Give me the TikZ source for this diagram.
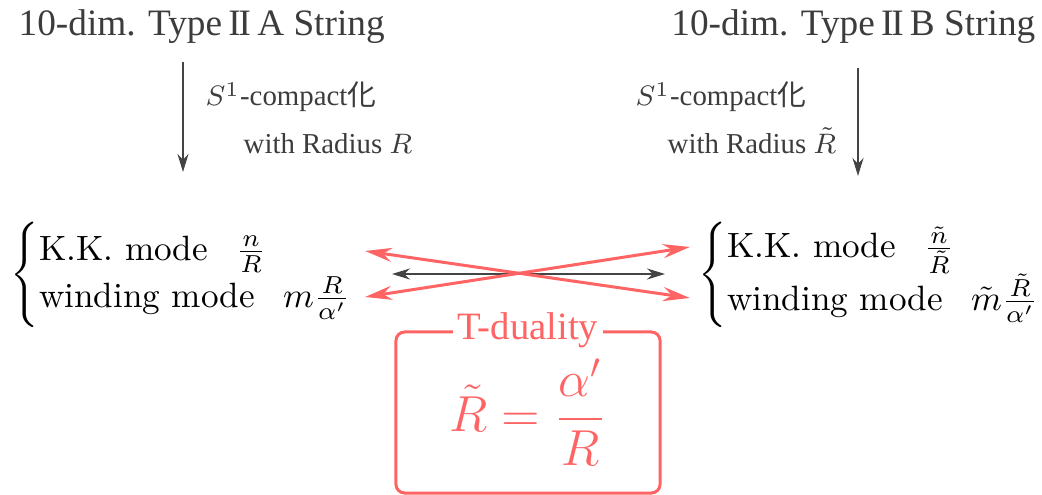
\documentclass[tikz,border=0pt]{standalone}
\usepackage{amsmath}
\usepackage{fontspec}
\usepackage{tikz}
\usetikzlibrary{
  arrows.meta,
  positioning
}
\newfontfamily\strfont{Liberation Serif}
\newfontfamily\cjk{Noto Sans CJK JP}
\definecolor{tdRed}{HTML}{FF6464}
\definecolor{tdInk}{HTML}{3C3C3C}
\definecolor{tdArrow}{HTML}{444444}
\tikzset{
  strname/.style={font=\strfont\fontsize{10.6pt}{13pt}\selectfont, text=tdInk, inner sep=0pt},
  compact/.style={font=\strfont\fontsize{8.2pt}{13.6pt}\selectfont, text=tdInk, inner sep=0pt, align=left},
  modes/.style={font=\normalsize, inner sep=0pt},
  reduce/.style={-{Stealth[length=1.8mm, width=1.1mm]}, line width=0.6pt, tdArrow},
  dual/.style={{Stealth[length=2.7mm, width=1.4mm]}-{Stealth[length=2.7mm, width=1.4mm]}, line width=0.85pt, tdRed},
  swap/.style={{Stealth[length=1.8mm, width=1.1mm]}-{Stealth[length=1.8mm, width=1.1mm]}, line width=0.6pt, tdArrow},
  tbox/.style={draw=tdRed, line width=0.85pt, rounded corners=2.5pt, minimum width=2.64cm,
    minimum height=1.61cm, text=tdRed, font=\fontsize{14.5pt}{17pt}\selectfont},
  tlabel/.style={fill=white, text=tdRed, inner sep=1.5pt, font=\strfont\fontsize{11pt}{13pt}\selectfont}
}
\newcommand{\two}{I\kern-0.6pt I}

\begin{document}
\begin{tikzpicture}[x=0.01cm, y=-0.01cm]
  \useasboundingbox (0,0) rectangle (1042,495);
  % string theories
  \node[strname, anchor=base west] (typeA) at (18,36) {10-dim. Type\,\two\,A String};
  \node[strname, anchor=base east] (typeB) at (1036,36) {10-dim. Type\,\two\,B String};
  % compactification
  \coordinate (downA1) at (183,62);
  \coordinate (downA2) at (183,172);
  \coordinate (downB1) at (858,68);
  \coordinate (downB2) at (858,176);
  \draw[reduce] (downA1) -- (downA2);
  \draw[reduce] (downB1) -- (downB2);
  \node[compact, anchor=base west] (compA) at (205,106) {$S^1$-compact{\cjk 化}};
  \node[compact, anchor=base west] (radA) at (243,154) {with Radius $R$};
  \node[compact, anchor=base west] (compB) at (635,106) {$S^1$-compact{\cjk 化}};
  \node[compact, anchor=base west] (radB) at (667,154) {with Radius $\tilde R$};
  % spectra
  \node[modes, anchor=west] (modesA) at (10,275)
    {$\left\{\begin{array}{@{}l@{}}\rule{0pt}{11pt}\text{K.K. mode}\hspace{8pt}\frac{n}{R}\\[1pt]
      \text{winding mode}\hspace{8pt}m\frac{R}{\alpha'}\rule[-6pt]{0pt}{6pt}\end{array}\right.$};
  \node[modes, anchor=west] (modesB) at (698,275)
    {$\left\{\begin{array}{@{}l@{}}\rule{0pt}{11pt}\text{K.K. mode}\hspace{8pt}\frac{\tilde n}{\tilde R}\\[1pt]
      \text{winding mode}\hspace{8pt}\tilde m\frac{\tilde R}{\alpha'}\rule[-6pt]{0pt}{6pt}\end{array}\right.$};
  % T-duality map
  \coordinate (kkA) at (365,251);
  \coordinate (wA) at (365,297);
  \coordinate (kkB) at (690,247);
  \coordinate (wB) at (690,298);
  \coordinate (midA) at (392,274);
  \coordinate (midB) at (665,274);
  \draw[swap] (midA) -- (midB);
  \draw[dual] (kkA) -- (wB);
  \draw[dual] (wA) -- (kkB);
  \node[tbox] (tdual) at (528,412.5) {$\displaystyle\tilde R = \frac{\alpha'}{R}$};
  \node[tlabel] (tdname) at (tdual.north) {T-duality};
\end{tikzpicture}
\end{document}
